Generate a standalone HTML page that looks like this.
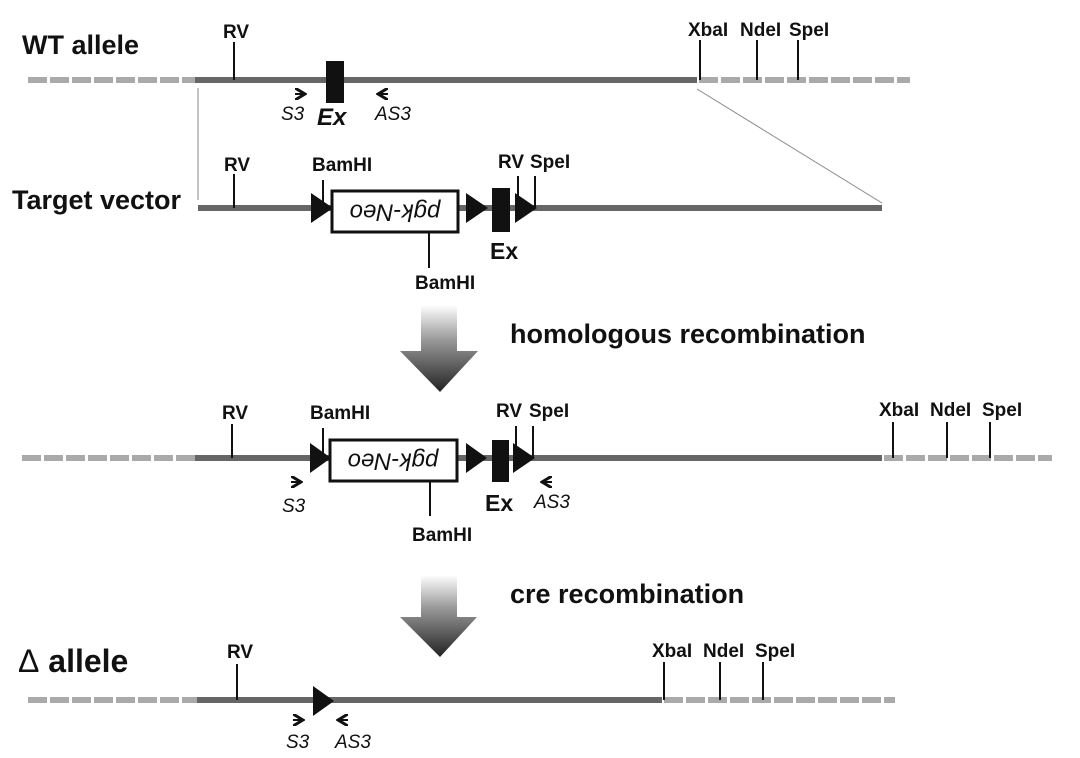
<!DOCTYPE html>
<html><head><meta charset="utf-8"><style>
html,body{margin:0;padding:0;background:#fff;}
svg{display:block;font-family:"Liberation Sans",Arial,sans-serif;}
.l{font-weight:bold;font-size:19px;fill:#111;}
.i{font-style:italic;font-size:19px;fill:#111;}
</style></head><body>
<svg width="1080" height="758" viewBox="0 0 1080 758" xmlns="http://www.w3.org/2000/svg">
<defs>
<linearGradient id="g" x1="0" y1="0" x2="0" y2="1">
<stop offset="0" stop-color="#fff"/><stop offset="0.4" stop-color="#999"/><stop offset="1" stop-color="#222"/>
</linearGradient>
<marker id="ah" markerWidth="6" markerHeight="6" refX="5" refY="3" orient="auto"><path d="M0,0 L5,3 L0,6" fill="none" stroke="#111" stroke-width="1.5"/></marker>
</defs>

<!-- WT allele -->
<text x="22" y="54" font-weight="bold" font-size="27" fill="#111">WT allele</text>
<line x1="28" y1="80" x2="195" y2="80" stroke="#aaa" stroke-width="6" stroke-dasharray="19,3"/>
<line x1="195" y1="80" x2="697" y2="80" stroke="#666" stroke-width="6"/>
<line x1="699" y1="80" x2="910" y2="80" stroke="#aaa" stroke-width="6" stroke-dasharray="19,3"/>
<line x1="234" y1="42" x2="234" y2="80" stroke="#111" stroke-width="2"/>
<text class="l" x="223" y="38">RV</text>
<rect x="326" y="61" width="18" height="42" fill="#111"/>
<path d="M295,94 H305" stroke="#111" stroke-width="2" marker-end="url(#ah)"/>
<text class="i" x="281" y="120">S3</text>
<text x="317" y="125" font-weight="bold" font-style="italic" font-size="24" fill="#111">Ex</text>
<path d="M388,94 H378" stroke="#111" stroke-width="2" marker-end="url(#ah)"/>
<text class="i" x="375" y="120">AS3</text>
<line x1="700" y1="40" x2="700" y2="80" stroke="#111" stroke-width="2"/>
<line x1="757" y1="40" x2="757" y2="80" stroke="#111" stroke-width="2"/>
<line x1="798" y1="40" x2="798" y2="80" stroke="#111" stroke-width="2"/>
<text class="l" x="688" y="36">XbaI</text>
<text class="l" x="740" y="36">NdeI</text>
<text class="l" x="789" y="36">SpeI</text>
<line x1="198" y1="88" x2="198" y2="200" stroke="#888" stroke-width="1"/>
<line x1="697" y1="89" x2="882" y2="203" stroke="#888" stroke-width="1"/>

<!-- Target vector -->
<text x="12" y="209" font-weight="bold" font-size="27" fill="#111">Target vector</text>
<line x1="198" y1="208" x2="882" y2="208" stroke="#666" stroke-width="6"/>
<line x1="234" y1="174" x2="234" y2="208" stroke="#111" stroke-width="2"/>
<text class="l" x="224" y="171">RV</text>
<line x1="323" y1="180" x2="323" y2="208" stroke="#111" stroke-width="2"/>
<text class="l" x="312" y="171">BamHI</text>
<polygon points="311,193 311,223 333,208" fill="#111"/>
<rect x="332" y="191" width="126" height="41" fill="#fff" stroke="#111" stroke-width="3"/>
<text transform="translate(395,211) rotate(180)" text-anchor="middle" dominant-baseline="middle" font-style="italic" font-size="24" fill="#111">pgk-Neo</text>
<line x1="429" y1="232" x2="429" y2="268" stroke="#111" stroke-width="2"/>
<text class="l" x="415" y="289">BamHI</text>
<polygon points="466,193 466,223 488,208" fill="#111"/>
<rect x="492" y="188" width="18" height="44" fill="#111"/>
<text x="490" y="259" font-weight="bold" font-size="23" fill="#111">Ex</text>
<line x1="518" y1="176" x2="518" y2="208" stroke="#111" stroke-width="2"/>
<line x1="535" y1="176" x2="535" y2="208" stroke="#111" stroke-width="2"/>
<polygon points="515,193 515,223 537,208" fill="#111"/>
<text class="l" x="498" y="168">RV</text>
<text class="l" x="530" y="168">SpeI</text>

<!-- arrow 1 -->
<polygon points="421,305 457,305 457,351 478,351 440,392 400,351 421,351" fill="url(#g)"/>
<text x="510" y="343" font-weight="bold" font-size="27" fill="#111">homologous recombination</text>

<!-- Row 3 -->
<line x1="22" y1="458" x2="195" y2="458" stroke="#aaa" stroke-width="6" stroke-dasharray="19,3"/>
<line x1="195" y1="458" x2="882" y2="458" stroke="#666" stroke-width="6"/>
<line x1="884" y1="458" x2="1052" y2="458" stroke="#aaa" stroke-width="6" stroke-dasharray="19,3"/>
<line x1="232" y1="424" x2="232" y2="458" stroke="#111" stroke-width="2"/>
<text class="l" x="222" y="419">RV</text>
<line x1="323" y1="428" x2="323" y2="458" stroke="#111" stroke-width="2"/>
<text class="l" x="310" y="419">BamHI</text>
<polygon points="310,443 310,473 331,458" fill="#111"/>
<rect x="330" y="440" width="127" height="41" fill="#fff" stroke="#111" stroke-width="3"/>
<text transform="translate(393,460) rotate(180)" text-anchor="middle" dominant-baseline="middle" font-style="italic" font-size="24" fill="#111">pgk-Neo</text>
<line x1="430" y1="481" x2="430" y2="516" stroke="#111" stroke-width="2"/>
<text class="l" x="412" y="541">BamHI</text>
<polygon points="466,443 466,473 487,458" fill="#111"/>
<rect x="492" y="440" width="17" height="42" fill="#111"/>
<text x="485" y="511" font-weight="bold" font-size="23" fill="#111">Ex</text>
<line x1="516" y1="426" x2="516" y2="458" stroke="#111" stroke-width="2"/>
<line x1="533" y1="426" x2="533" y2="458" stroke="#111" stroke-width="2"/>
<polygon points="513,443 513,473 535,458" fill="#111"/>
<text class="l" x="496" y="417">RV</text>
<text class="l" x="529" y="417">SpeI</text>
<path d="M291,482 H301" stroke="#111" stroke-width="2" marker-end="url(#ah)"/>
<text class="i" x="282" y="512">S3</text>
<path d="M552,482 H542" stroke="#111" stroke-width="2" marker-end="url(#ah)"/>
<text class="i" x="534" y="508">AS3</text>
<line x1="893" y1="422" x2="893" y2="458" stroke="#111" stroke-width="2"/>
<line x1="947" y1="422" x2="947" y2="458" stroke="#111" stroke-width="2"/>
<line x1="990" y1="422" x2="990" y2="458" stroke="#111" stroke-width="2"/>
<text class="l" x="879" y="416">XbaI</text>
<text class="l" x="930" y="416">NdeI</text>
<text class="l" x="982" y="416">SpeI</text>

<!-- arrow 2 -->
<polygon points="421,575 457,575 457,617 477,617 440,657 400,617 421,617" fill="url(#g)"/>
<text x="510" y="603" font-weight="bold" font-size="27" fill="#111">cre recombination</text>

<!-- Delta allele -->
<text x="18" y="672" font-weight="bold" font-size="32" fill="#111"><tspan font-weight="normal">Δ</tspan> allele</text>
<line x1="28" y1="700" x2="197" y2="700" stroke="#aaa" stroke-width="6" stroke-dasharray="19,3"/>
<line x1="197" y1="700" x2="662" y2="700" stroke="#666" stroke-width="6"/>
<line x1="664" y1="700" x2="895" y2="700" stroke="#aaa" stroke-width="6" stroke-dasharray="19,3"/>
<line x1="237" y1="664" x2="237" y2="700" stroke="#111" stroke-width="2"/>
<text class="l" x="227" y="658">RV</text>
<polygon points="313,686 313,716 334,701" fill="#111"/>
<path d="M293,720 H303" stroke="#111" stroke-width="2" marker-end="url(#ah)"/>
<text class="i" x="286" y="748">S3</text>
<path d="M348,720 H338" stroke="#111" stroke-width="2" marker-end="url(#ah)"/>
<text class="i" x="335" y="748">AS3</text>
<line x1="664" y1="662" x2="664" y2="700" stroke="#111" stroke-width="2"/>
<line x1="720" y1="662" x2="720" y2="700" stroke="#111" stroke-width="2"/>
<line x1="763" y1="662" x2="763" y2="700" stroke="#111" stroke-width="2"/>
<text class="l" x="652" y="657">XbaI</text>
<text class="l" x="703" y="657">NdeI</text>
<text class="l" x="755" y="657">SpeI</text>
</svg>
</body></html>
